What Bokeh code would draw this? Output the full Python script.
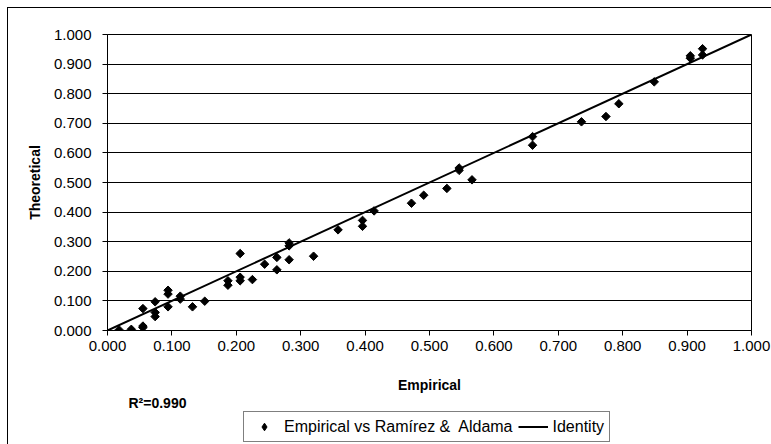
import numpy as np
from bokeh.plotting import figure
from bokeh.layouts import column
from bokeh.models import (Range1d, FixedTicker, NumeralTickFormatter, Legend, LegendItem, Label)
from bokeh.embed import file_html
from bokeh.resources import INLINE

# ---- data ----
empirical = [0.018, 0.037, 0.055, 0.055, 0.055, 0.074, 0.074, 0.074, 0.094, 0.094,
             0.094, 0.113, 0.113, 0.132, 0.151, 0.187, 0.187, 0.206, 0.206, 0.206,
             0.225, 0.244, 0.263, 0.263, 0.282, 0.282, 0.282, 0.320, 0.358, 0.396,
             0.396, 0.414, 0.472, 0.491, 0.527, 0.546, 0.546, 0.566, 0.660, 0.660,
             0.736, 0.774, 0.794, 0.849, 0.905, 0.905, 0.924, 0.924]
theoretical = [0.002, 0.004, 0.015, 0.010, 0.074, 0.097, 0.061, 0.047, 0.136, 0.123,
               0.080, 0.116, 0.106, 0.080, 0.099, 0.168, 0.153, 0.260, 0.180, 0.168,
               0.172, 0.224, 0.247, 0.205, 0.296, 0.286, 0.239, 0.251, 0.340, 0.372,
               0.352, 0.404, 0.430, 0.457, 0.480, 0.549, 0.541, 0.509, 0.655, 0.626,
               0.705, 0.723, 0.766, 0.840, 0.928, 0.920, 0.952, 0.931]
identity_x = [0.0, 1.0]
identity_y = [0.0, 1.0]
ticks = [0.0, 0.1, 0.2, 0.3, 0.4, 0.5, 0.6, 0.7, 0.8, 0.9, 1.0]
series_label = "Empirical vs Ramírez &  Aldama"
identity_label = "Identity"
r2_text = "R²=0.990"
x_title = "Empirical"
y_title = "Theoretical"

FONT = "Liberation Sans"
W = 771
H_MAIN = 396
H_FOOT = 58
OVERLAP = 10

# ---------------- main chart ----------------
p = figure(width=W, height=H_MAIN, output_backend="svg", toolbar_location=None,
           x_range=Range1d(0, 1), y_range=Range1d(0, 1),
           min_border_left=107, min_border_right=20, min_border_top=34, min_border_bottom=66)
# outer chart-area border (left and top edges visible in the reference)
p.styles = {
    "background-image": "linear-gradient(#000,#000), linear-gradient(#000,#000)",
    "background-size": "1px 100%, 100% 1px",
    "background-position": "7px 7px, 7px 7px",
    "background-repeat": "no-repeat",
}
p.background_fill_color = "white"
p.border_fill_color = None
p.outline_line_color = "black"
p.outline_line_width = 1

p.xgrid.visible = False
p.ygrid.ticker = FixedTicker(ticks=ticks)
p.ygrid.grid_line_color = "black"
p.ygrid.grid_line_width = 1

for ax in (p.xaxis[0], p.yaxis[0]):
    ax.ticker = FixedTicker(ticks=ticks)
    ax.formatter = NumeralTickFormatter(format="0.000")
    ax.minor_tick_line_color = None
    ax.major_tick_in = 0
    ax.major_tick_out = 5
    ax.axis_line_color = "black"
    ax.major_tick_line_color = "black"
    ax.major_label_text_font = FONT
    ax.major_label_text_font_size = "15px"
    ax.major_label_text_color = "black"
    ax.axis_label_text_font = FONT
    ax.axis_label_text_font_size = "14px"
    ax.axis_label_text_font_style = "bold"
    ax.axis_label_text_color = "black"

p.xaxis.axis_label = x_title
p.yaxis.axis_label = y_title
p.xaxis.major_label_standoff = 5
p.xaxis.axis_label_standoff = 23
p.yaxis.major_label_standoff = 11
p.yaxis.axis_label_standoff = 8

p.line(identity_x, identity_y, line_color="black", line_width=2)
p.scatter(empirical, theoretical, marker="square", angle=np.pi / 4, size=6,
          fill_color="black", line_color="black")

# ---------------- footer: R² note and legend ----------------
f = figure(width=W, height=H_FOOT, output_backend="svg", toolbar_location=None,
           x_range=Range1d(0, 1), y_range=Range1d(0, 1),
           x_axis_location=None, y_axis_location=None,
           min_border=0, min_border_left=0, min_border_right=0,
           min_border_top=0, min_border_bottom=0)
f.styles = {
    "margin-top": f"-{OVERLAP}px",
    "background-image": "linear-gradient(#000,#000)",
    "background-size": "1px 100%",
    "background-position": "7px 0px",
    "background-repeat": "no-repeat",
}
f.background_fill_color = None
f.border_fill_color = None
f.outline_line_color = None
f.grid.visible = False

# legend-only stand-ins (kept outside the visible range of the footer)
leg_pts = f.scatter(x=[-5], y=[-5], marker="diamond", size=8, fill_color="black", line_color="black")
leg_line = f.line(x=[-5, -4], y=[-5, -4], line_color="black", line_width=2)

# screen positions are relative to the footer frame (aligned with the chart frame)
f.add_layout(Label(x=21, y=42, x_units="screen", y_units="screen", text=r2_text,
                   text_baseline="alphabetic",
                   text_font=FONT, text_font_size="14px", text_font_style="bold",
                   text_color="black"))

legend = Legend(items=[LegendItem(label=series_label, renderers=[leg_pts]),
                       LegendItem(label=identity_label, renderers=[leg_line])],
                orientation="horizontal", location=(136, 2),
                border_line_color="black", border_line_width=1,
                background_fill_color="white", background_fill_alpha=1,
                padding=5, spacing=5, margin=0, glyph_width=30, glyph_height=19,
                label_height=19, label_standoff=5,
                label_text_font=FONT, label_text_font_size="16px", label_text_color="black")
f.add_layout(legend, "center")

page = column(p, f, spacing=0)
open("out.html", "w").write(file_html(page, INLINE))
